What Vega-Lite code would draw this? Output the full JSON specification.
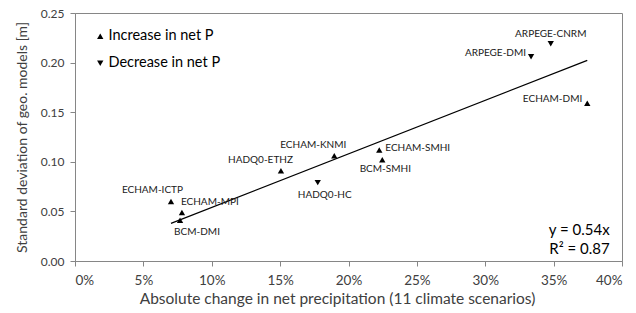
{
  "$schema": "https://vega.github.io/schema/vega-lite/v6.json",
  "width": 547,
  "height": 248,
  "autosize": "none",
  "padding": {"left": 75, "top": 13, "right": 14, "bottom": 52},
  "background": "white",
  "config": {
    "font": "Lato",
    "view": {"stroke": "#868686", "strokeWidth": 1},
    "axis": {
      "grid": false,
      "domainColor": "#868686",
      "tickColor": "#868686",
      "tickSize": 5,
      "labelColor": "#404040",
      "titleColor": "#404040",
      "labelFontSize": 12,
      "titleFontSize": 14,
      "titleFontWeight": "normal"
    }
  },
  "datasets": {
    "points": [
      {"model": "ECHAM-ICTP", "change": 0.0702, "sd": 0.060, "direction": "Increase in net P"},
      {"model": "ECHAM-MPI", "change": 0.0782, "sd": 0.049, "direction": "Increase in net P"},
      {"model": "BCM-DMI", "change": 0.0768, "sd": 0.041, "direction": "Increase in net P"},
      {"model": "HADQ0-ETHZ", "change": 0.1506, "sd": 0.091, "direction": "Increase in net P"},
      {"model": "ECHAM-KNMI", "change": 0.1896, "sd": 0.106, "direction": "Increase in net P"},
      {"model": "HADQ0-HC", "change": 0.1775, "sd": 0.079, "direction": "Decrease in net P"},
      {"model": "ECHAM-SMHI", "change": 0.2225, "sd": 0.112, "direction": "Increase in net P"},
      {"model": "BCM-SMHI", "change": 0.2247, "sd": 0.102, "direction": "Increase in net P"},
      {"model": "ARPEGE-DMI", "change": 0.3335, "sd": 0.206, "direction": "Decrease in net P"},
      {"model": "ARPEGE-CNRM", "change": 0.3479, "sd": 0.219, "direction": "Decrease in net P"},
      {"model": "ECHAM-DMI", "change": 0.3746, "sd": 0.159, "direction": "Increase in net P"}
    ],
    "trend": [
      {"change": 0.0702, "sd": 0.0379},
      {"change": 0.3746, "sd": 0.2023}
    ],
    "equation": [
      {"change": 0.391, "sd": 0.0313, "text": "y = 0.54x"},
      {"change": 0.391, "sd": 0.0125, "text": "R² = 0.87"}
    ]
  },
  "layer": [
    {
      "data": {"name": "trend"},
      "mark": {"type": "line", "color": "#000000", "strokeWidth": 1.2},
      "encoding": {
        "x": {
          "field": "change", "type": "quantitative",
          "scale": {"domain": [0, 0.4], "nice": false},
          "axis": {"format": ".0%", "values": [0, 0.05, 0.1, 0.15, 0.2, 0.25, 0.3, 0.35, 0.4], "title": "Absolute change in net precipitation (11 climate scenarios)", "labelFontSize": 13.5, "titleFontSize": 15.5, "labelPadding": 7, "titlePadding": 5, "titleX": 262}
        },
        "y": {
          "field": "sd", "type": "quantitative",
          "scale": {"domain": [0, 0.25], "nice": false},
          "axis": {"format": ".2f", "values": [0, 0.05, 0.1, 0.15, 0.2, 0.25], "title": "Standard deviation of geo. models [m]", "labelPadding": 6, "titlePadding": 11}
        }
      }
    },
    {
      "data": {"name": "points"},
      "mark": {"type": "point", "filled": true, "opacity": 1, "size": 40},
      "encoding": {
        "x": {"field": "change", "type": "quantitative"},
        "y": {"field": "sd", "type": "quantitative"},
        "color": {"value": "#000000"},
        "shape": {
          "field": "direction", "type": "nominal",
          "scale": {"domain": ["Increase in net P", "Decrease in net P"], "range": ["triangle-up", "triangle-down"]},
          "legend": {
            "title": null, "orient": "none", "legendX": 18, "legendY": 16,
            "labelFontSize": 14.5, "labelColor": "#000000", "symbolSize": 40,
            "symbolFillColor": "#000000", "symbolStrokeColor": "#000000",
            "rowPadding": 12, "labelOffset": 1
          }
        }
      }
    },
    {
      "data": {"name": "points"},
      "transform": [{"filter": {"field": "model", "oneOf": ["ECHAM-ICTP", "HADQ0-ETHZ", "ECHAM-KNMI"]}}],
      "mark": {"type": "text", "align": "right", "dx": 12, "dy": -11, "fontSize": 10, "color": "#1a1a1a"},
      "encoding": {
        "x": {"field": "change", "type": "quantitative"},
        "y": {"field": "sd", "type": "quantitative"},
        "text": {"field": "model"}
      }
    },
    {
      "data": {"name": "points"},
      "transform": [{"filter": {"field": "model", "oneOf": ["ARPEGE-CNRM"]}}],
      "mark": {"type": "text", "align": "center", "dx": 0, "dy": -10, "fontSize": 10, "color": "#1a1a1a"},
      "encoding": {
        "x": {"field": "change", "type": "quantitative"},
        "y": {"field": "sd", "type": "quantitative"},
        "text": {"field": "model"}
      }
    },
    {
      "data": {"name": "points"},
      "transform": [{"filter": {"field": "model", "oneOf": ["ARPEGE-DMI", "ECHAM-DMI"]}}],
      "mark": {"type": "text", "align": "right", "dx": -5, "dy": -4, "fontSize": 10, "color": "#1a1a1a"},
      "encoding": {
        "x": {"field": "change", "type": "quantitative"},
        "y": {"field": "sd", "type": "quantitative"},
        "text": {"field": "model"}
      }
    },
    {
      "data": {"name": "points"},
      "transform": [{"filter": {"field": "model", "oneOf": ["ECHAM-MPI"]}}],
      "mark": {"type": "text", "align": "left", "dx": -1, "dy": -10, "fontSize": 10, "color": "#1a1a1a"},
      "encoding": {
        "x": {"field": "change", "type": "quantitative"},
        "y": {"field": "sd", "type": "quantitative"},
        "text": {"field": "model"}
      }
    },
    {
      "data": {"name": "points"},
      "transform": [{"filter": {"field": "model", "oneOf": ["ECHAM-SMHI"]}}],
      "mark": {"type": "text", "align": "left", "dx": 6, "dy": -2, "fontSize": 10, "color": "#1a1a1a"},
      "encoding": {
        "x": {"field": "change", "type": "quantitative"},
        "y": {"field": "sd", "type": "quantitative"},
        "text": {"field": "model"}
      }
    },
    {
      "data": {"name": "points"},
      "transform": [{"filter": {"field": "model", "oneOf": ["BCM-DMI"]}}],
      "mark": {"type": "text", "align": "center", "dx": 17, "dy": 12, "fontSize": 10, "color": "#1a1a1a"},
      "encoding": {
        "x": {"field": "change", "type": "quantitative"},
        "y": {"field": "sd", "type": "quantitative"},
        "text": {"field": "model"}
      }
    },
    {
      "data": {"name": "points"},
      "transform": [{"filter": {"field": "model", "oneOf": ["HADQ0-HC"]}}],
      "mark": {"type": "text", "align": "center", "dx": 7, "dy": 12, "fontSize": 10, "color": "#1a1a1a"},
      "encoding": {
        "x": {"field": "change", "type": "quantitative"},
        "y": {"field": "sd", "type": "quantitative"},
        "text": {"field": "model"}
      }
    },
    {
      "data": {"name": "points"},
      "transform": [{"filter": {"field": "model", "oneOf": ["BCM-SMHI"]}}],
      "mark": {"type": "text", "align": "center", "dx": 3, "dy": 9, "fontSize": 10, "color": "#1a1a1a"},
      "encoding": {
        "x": {"field": "change", "type": "quantitative"},
        "y": {"field": "sd", "type": "quantitative"},
        "text": {"field": "model"}
      }
    },
    {
      "data": {"name": "equation"},
      "mark": {"type": "text", "align": "right", "baseline": "middle", "fontSize": 15, "color": "#000000"},
      "encoding": {
        "x": {"field": "change", "type": "quantitative"},
        "y": {"field": "sd", "type": "quantitative"},
        "text": {"field": "text"}
      }
    }
  ]
}
